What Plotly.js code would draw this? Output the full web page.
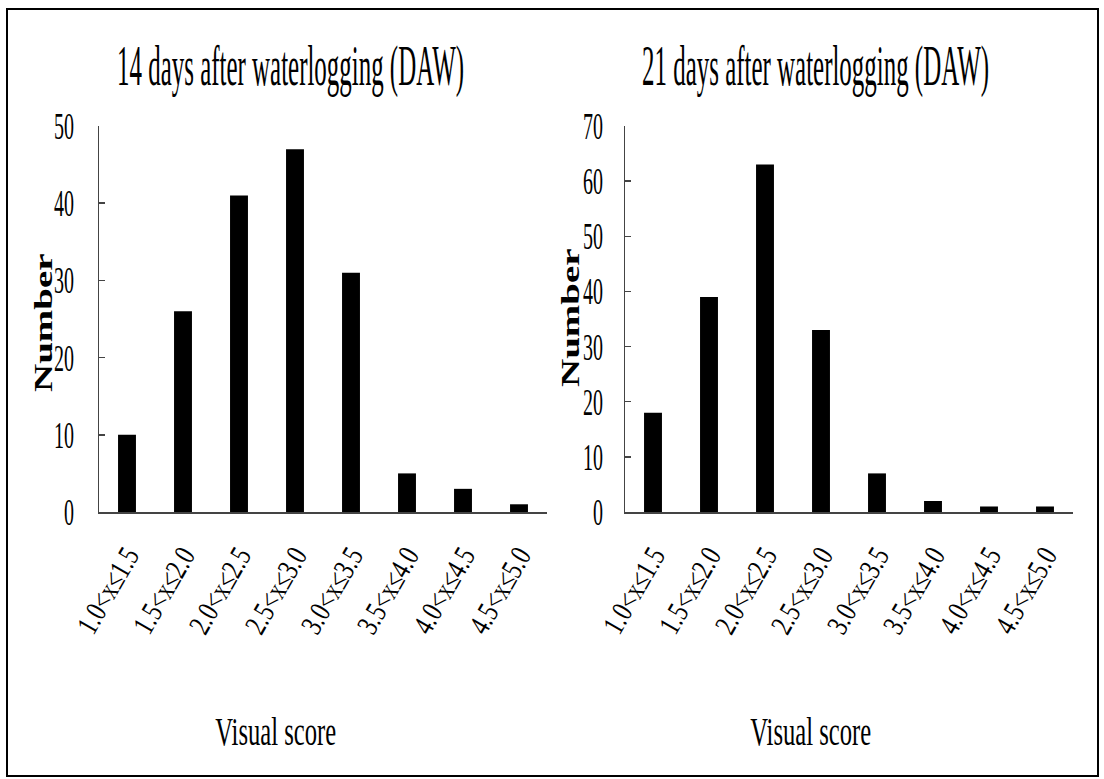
<!DOCTYPE html>
<html>
<head>
<meta charset="utf-8">
<script src="https://cdn.plot.ly/plotly-3.0.1.min.js"></script>
<style>
  html, body { margin: 0; padding: 0; background: #ffffff; }
  #chart { width: 1104px; height: 779px; }
</style>
</head>
<body>
<div id="chart"></div>
<script>
// ---- data ----
const categories = ['1.0<x≤1.5', '1.5<x≤2.0', '2.0<x≤2.5', '2.5<x≤3.0',
                    '3.0<x≤3.5', '3.5<x≤4.0', '4.0<x≤4.5', '4.5<x≤5.0'];
const days14 = [10, 26, 41, 47, 31, 5, 3, 1];
const days21 = [18, 39, 63, 33, 7, 2, 1, 1];
const titles = ['14 days after waterlogging (DAW)', '21 days after waterlogging (DAW)'];
const xTitle = 'Visual score';
const yTitle = 'Number';

// ---- layout helpers (pixel -> paper) ----
const W = 1104, H = 779;
const px = v => v / W;
const py = v => (H - v) / H;

const serif = 'Liberation Serif, Times New Roman, serif';

const barTrace = (y, xa, ya) => ({
  type: 'bar', x: categories, y: y, xaxis: xa, yaxis: ya,
  marker: { color: '#000000', line: { width: 0 } },
  hoverinfo: 'skip', showlegend: false
});

const xCommon = {
  type: 'category', range: [-0.5, 7.5], showgrid: false, zeroline: false,
  showline: true, linecolor: '#444', linewidth: 1.5, ticks: '',
  tickangle: -60, ticklabelstandoff: 13,
  tickfont: { family: serif, size: 30, color: '#000' }, fixedrange: true
};
const yCommon = {
  showgrid: false, zeroline: false, showline: true, linecolor: '#444', linewidth: 1.5,
  ticks: 'inside', ticklen: 6, tickwidth: 1.5, tickcolor: '#444', dtick: 10,
  tickfont: { family: serif, size: 37, color: '#000' }, fixedrange: true
};

const yDom = [py(512), py(126)];

const layout = {
  width: W, height: H,
  margin: { l: 0, r: 0, t: 0, b: 0 },
  paper_bgcolor: '#ffffff', plot_bgcolor: '#ffffff',
  bargap: 0.68,
  xaxis: Object.assign({}, xCommon, { domain: [px(99), px(547)], anchor: 'y' }),
  yaxis: Object.assign({}, yCommon, { domain: yDom, range: [0, 50], anchor: 'x', ticklabelstandoff: 16 }),
  xaxis2: Object.assign({}, xCommon, { domain: [px(625), px(1073)], anchor: 'y2' }),
  yaxis2: Object.assign({}, yCommon, { domain: yDom, range: [0, 70], anchor: 'x2', ticklabelstandoff: 13 }),
  shapes: [{
    type: 'rect', xref: 'paper', yref: 'paper',
    x0: px(7), x1: px(1098), y0: py(776), y1: py(9),
    line: { color: '#000', width: 2 }, fillcolor: 'rgba(0,0,0,0)'
  }],
  annotations: [
    { text: titles[0], x: px(290), y: py(66), xref: 'paper', yref: 'paper', xanchor: 'center', yanchor: 'middle',
      showarrow: false, font: { family: serif, size: 58, color: '#000' } },
    { text: titles[1], x: px(815), y: py(66), xref: 'paper', yref: 'paper', xanchor: 'center', yanchor: 'middle',
      showarrow: false, font: { family: serif, size: 58, color: '#000' } },
    { text: xTitle, x: px(275), y: py(731), xref: 'paper', yref: 'paper', xanchor: 'center', yanchor: 'middle',
      showarrow: false, font: { family: serif, size: 41, color: '#000' } },
    { text: xTitle, x: px(810), y: py(731), xref: 'paper', yref: 'paper', xanchor: 'center', yanchor: 'middle',
      showarrow: false, font: { family: serif, size: 41, color: '#000' } },
    { text: '<b>' + yTitle + '</b>', x: px(43), y: py(323), xref: 'paper', yref: 'paper', xanchor: 'center', yanchor: 'middle',
      textangle: -90, showarrow: false, font: { family: serif, size: 39, color: '#000' } },
    { text: '<b>' + yTitle + '</b>', x: px(570), y: py(318), xref: 'paper', yref: 'paper', xanchor: 'center', yanchor: 'middle',
      textangle: -90, showarrow: false, font: { family: serif, size: 39, color: '#000' } }
  ]
};

const data = [barTrace(days14, 'x', 'y'), barTrace(days21, 'x2', 'y2')];

// Narrow the serif glyphs to match the condensed lettering of the original figure
function squeeze(el, sx, sy, mode) {
  const b = el.getBBox();
  const ax = mode === 'end' ? b.x + b.width : (mode === 'start' ? b.x : b.x + b.width / 2);
  const ay = b.y + b.height / 2;
  const t = el.getAttribute('transform') || '';
  el.setAttribute('transform', t + ' translate(' + ax + ',' + ay + ') scale(' + sx + ',' + sy + ') translate(' + (-ax) + ',' + (-ay) + ')');
}

Plotly.newPlot('chart', data, layout, { displayModeBar: false, staticPlot: true }).then(gd => {
  gd.querySelectorAll('.ytick text, .y2tick text').forEach(el => squeeze(el, 0.54, 1, 'end'));
  gd.querySelectorAll('.xtick text, .x2tick text').forEach(el => squeeze(el, 0.76, 1, 'end'));
  gd.querySelectorAll('g.annotation').forEach(g => {
    const i = +g.getAttribute('data-index');
    const t = g.querySelector('text');
    if (!t) return;
    if (i <= 1) squeeze(t, 0.43, 1, 'middle');
    else if (i <= 3) squeeze(t, 0.6, 1, 'middle');
    else squeeze(t, 1, 0.66, 'middle');
  });
});
</script>
</body>
</html>
